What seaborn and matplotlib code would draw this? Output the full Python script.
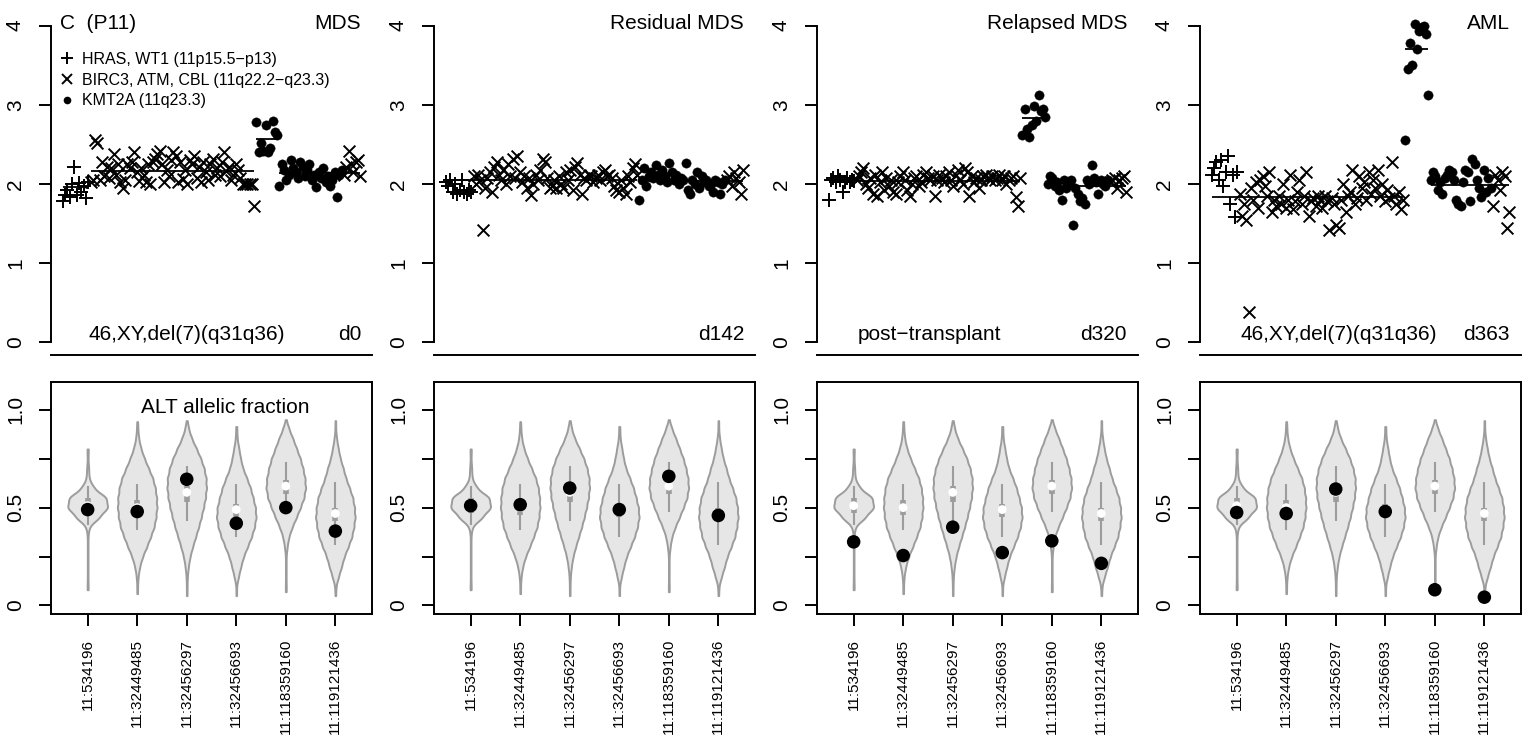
import numpy as np
import pandas as pd
import matplotlib
matplotlib.use("Agg")
import matplotlib.pyplot as plt
from matplotlib.lines import Line2D
import seaborn as sns

plt.rcParams['font.family'] = ['Liberation Sans', 'DejaVu Sans']

# ------------------------------------------------------------------ data
panel_titles = ["MDS", "Residual MDS", "Relapsed MDS", "AML"]
panel_days = ["d0", "d142", "d320", "d363"]
panel_notes = ["46,XY,del(7)(q31q36)", "", "post\u2212transplant", "46,XY,del(7)(q31q36)"]
group_labels = ["HRAS, WT1 (11p15.5\u2212p13)",
                "BIRC3, ATM, CBL (11q22.2\u2212q23.3)",
                "KMT2A (11q23.3)"]

# copy-number estimates in genomic order: HRAS/WT1 (+), BIRC3/ATM (x), KMT2A (dot), CBL (x)
p1_hras = [1.78, 1.86, 1.92, 1.84, 2.00, 2.22, 1.86, 2.01, 1.90, 1.97, 1.82, 2.03]
p1_atm = [2.02, 2.05, 2.55, 2.52, 2.05, 2.28, 2.10, 2.22, 2.08, 2.20, 2.38, 2.12,
          2.25, 2.02, 1.95, 2.05, 2.25, 2.20, 2.28, 2.40, 2.15, 2.04, 2.20, 2.12,
          2.02, 2.25, 2.00, 2.28, 2.32, 2.38, 2.42, 2.25, 2.02, 2.18, 2.10, 2.30,
          2.40, 2.35, 2.03, 2.28, 2.06, 2.18, 2.00, 2.30, 2.25, 2.35, 2.08, 2.22,
          2.02, 2.28, 2.15, 2.05, 2.25, 2.32, 2.12, 2.20, 2.10, 2.28, 2.40, 2.16,
          2.22, 2.05, 2.12, 2.25, 2.18, 2.08, 2.00, 2.00, 2.00, 2.00, 2.00, 1.72]
p1_kmt2a = [2.78, 2.40, 2.52, 2.42, 2.74, 2.40, 2.45, 2.80, 2.66, 2.62,
            1.97, 2.25, 2.18, 2.05, 2.12, 2.30, 2.20, 2.15, 2.08, 2.28, 2.22, 2.10,
            2.18, 2.25, 2.05, 2.12, 1.96, 2.15, 2.08, 2.20, 2.02, 2.10, 1.98, 2.05,
            2.15, 1.83, 2.12, 2.18]
p1_cbl = [2.12, 2.22, 2.42, 2.25, 2.15, 2.28, 2.30, 2.10]

p2_hras = [2.02, 1.98, 2.05, 1.90, 2.00, 1.88, 1.92, 2.05, 1.90, 1.88, 1.93, 1.90]
p2_atm = [2.10, 2.00, 2.12, 2.05, 1.42, 1.95, 2.08, 2.15, 1.90, 2.22, 2.28, 2.12,
          2.05, 2.18, 2.00, 2.25, 2.10, 2.32, 2.08, 2.35, 2.15, 2.02, 2.10, 1.95,
          2.08, 1.86, 2.00, 2.12, 2.05, 2.18, 2.32, 2.28, 2.08, 1.95, 1.98, 2.05,
          1.95, 2.10, 2.00, 1.95, 2.15, 2.05, 2.18, 1.92, 2.22, 2.26, 2.12, 1.88,
          2.08, 2.05, 2.12, 2.10, 2.02, 2.08, 2.12, 2.05, 2.15, 2.18, 2.10, 2.12,
          2.08, 1.98, 1.92, 1.90, 2.05, 1.95, 1.88, 2.10, 2.02, 2.20, 2.25, 2.12]
p2_kmt2a = [1.80, 2.05, 2.20, 1.98, 2.10, 2.15, 2.08, 2.24, 2.12, 2.05,
            2.18, 2.10, 2.02, 2.26, 2.15, 2.05, 2.12, 2.00, 2.08, 2.05,
            2.26, 1.92, 1.88, 2.05, 2.00, 2.15, 1.95, 2.10, 2.02, 2.05,
            1.98, 2.00, 1.90, 2.05, 2.02, 1.88, 2.00, 2.05]
p2_cbl = [2.05, 2.10, 1.98, 2.15, 2.08, 2.02, 1.88, 2.18]

p3_hras = [1.80, 2.05, 2.08, 2.02, 2.10, 2.05, 1.90, 2.03, 2.08, 2.02, 2.05, 2.04]
p3_atm = [2.05, 2.10, 2.15, 2.20, 2.00, 1.95, 2.08, 1.88, 2.12, 1.85, 2.02, 2.15,
          1.92, 2.08, 1.98, 2.05, 1.90, 1.88, 2.02, 2.10, 2.15, 2.05, 1.92, 1.85,
          2.00, 2.08, 2.10, 1.98, 2.02, 2.12, 2.15, 2.08, 2.05, 2.10, 1.85, 2.05,
          2.12, 2.08, 2.02, 2.10, 2.15, 2.05, 1.98, 2.12, 2.18, 2.05, 2.00, 2.20,
          2.15, 1.85, 2.10, 2.02, 2.08, 1.95, 2.05, 2.10, 2.12, 2.08, 2.05, 2.10,
          2.05, 2.08, 2.12, 2.05, 2.10, 2.00, 2.05, 2.08, 2.10, 1.84, 1.72, 2.08]
p3_kmt2a = [2.62, 2.95, 2.70, 2.60, 2.75, 2.98, 2.80, 3.13, 2.92, 2.95, 2.85,
            2.00, 2.10, 2.08, 1.98, 2.02, 1.92, 1.80, 2.05, 1.95, 2.02, 2.05, 1.48,
            1.95, 1.88, 1.78, 1.82, 1.75, 2.05, 2.00, 2.24, 2.08, 2.02, 1.87, 2.05,
            2.00, 1.98, 2.05]
p3_cbl = [2.02, 2.05, 2.08, 1.95, 2.05, 2.08, 2.10, 1.90]

p4_hras = [2.12, 2.20, 2.28, 2.05, 2.30, 1.98, 2.15, 2.35, 1.75, 2.12, 1.58, 2.15]
p4_atm = [1.88, 1.60, 1.75, 1.55, 0.38, 1.95, 1.80, 2.02, 1.70, 2.05, 2.10, 1.98,
          1.85, 2.15, 1.65, 1.80, 1.72, 1.85, 1.75, 2.00, 1.70, 1.80, 2.12, 1.68,
          1.78, 1.90, 2.05, 1.75, 1.85, 2.15, 1.60, 1.78, 1.82, 1.72, 1.85, 1.80,
          1.70, 1.85, 1.78, 1.42, 1.82, 1.75, 1.48, 1.45, 1.80, 2.00, 1.65, 1.85,
          1.90, 2.18, 1.75, 1.82, 2.10, 1.95, 2.02, 1.80, 2.15, 1.88, 2.05, 1.95,
          2.18, 1.85, 2.00, 1.78, 1.92, 1.82, 2.28, 1.85, 1.75, 1.90, 1.68, 1.80]
p4_kmt2a = [2.56, 3.45, 3.78, 3.50, 4.02, 3.70, 3.93, 3.98, 4.00, 3.90, 3.13,
            2.05, 2.15, 2.10, 1.92, 2.02, 1.88, 2.08, 2.12, 2.18, 2.15, 2.05, 1.80,
            1.75, 1.72, 2.02, 2.18, 2.15, 1.78, 2.32, 2.25, 2.05, 1.95, 1.84, 2.18,
            1.90, 2.08, 1.95]
p4_cbl = [1.72, 2.12, 2.05, 1.92, 2.15, 2.10, 1.45, 1.65]

# segmentation: first marker, last marker (1-based), mean copy number
p1_seg_start = [1, 13, 85, 95]
p1_seg_end = [12, 84, 94, 130]
p1_seg_mean = [1.96, 2.16, 2.57, 2.14]
p2_seg_start = [1, 85]
p2_seg_end = [84, 130]
p2_seg_mean = [2.05, 2.04]
p3_seg_start = [1, 85, 96]
p3_seg_end = [84, 95, 130]
p3_seg_mean = [2.04, 2.83, 1.98]
p4_seg_start = [1, 85, 96]
p4_seg_end = [84, 95, 130]
p4_seg_mean = [1.84, 3.70, 1.99]

# allelic-fraction reference distributions (relative densities read on a grid)
loci = ["11:534196", "11:32449485", "11:32456297", "11:32456693", "11:118359160", "11:119121436"]
af_grid = [0.05, 0.10, 0.15, 0.20, 0.25, 0.30, 0.35, 0.40, 0.45, 0.50,
           0.55, 0.60, 0.65, 0.70, 0.75, 0.80, 0.85, 0.90, 0.95]
ref_dens_1 = [0, 1, 1, 1, 1, 1, 1, 4, 34, 60, 56, 18, 4, 3, 1, 1, 0, 0, 0]
ref_dens_2 = [0, 1, 3, 8, 17, 30, 42, 53, 59, 62, 61, 57, 49, 36, 23, 12, 5, 2, 0]
ref_dens_3 = [0, 1, 2, 5, 10, 18, 27, 36, 44, 51, 57, 60, 59, 53, 43, 30, 16, 6, 0]
ref_dens_4 = [0, 1, 7, 14, 22, 34, 46, 55, 60, 58, 51, 43, 32, 20, 13, 8, 3, 1, 0]
ref_dens_5 = [0, 1, 1, 1, 1, 4, 9, 19, 32, 44, 55, 60, 58, 52, 44, 33, 22, 10, 0]
ref_dens_6 = [0, 2, 10, 19, 27, 39, 50, 56, 60, 58, 53, 43, 32, 24, 15, 9, 4, 1, 0]
ref_min = [0.08, 0.06, 0.05, 0.05, 0.07, 0.05]
ref_max = [0.795, 0.94, 0.945, 0.915, 0.95, 0.945]
ref_whisk_lo = [0.41, 0.385, 0.43, 0.35, 0.48, 0.31]
ref_whisk_hi = [0.61, 0.62, 0.715, 0.62, 0.735, 0.63]
ref_q1 = [0.47, 0.46, 0.53, 0.45, 0.57, 0.43]
ref_q3 = [0.55, 0.54, 0.61, 0.52, 0.64, 0.50]
ref_median = [0.51, 0.50, 0.578, 0.49, 0.61, 0.47]

# sample allelic fractions per time point
af_d0 = [0.49, 0.48, 0.645, 0.42, 0.50, 0.38]
af_d142 = [0.51, 0.515, 0.60, 0.49, 0.66, 0.46]
af_d320 = [0.325, 0.255, 0.40, 0.27, 0.33, 0.215]
af_d363 = [0.475, 0.47, 0.595, 0.48, 0.08, 0.042]

# ------------------------------------------------------------------ assemble
cn_panels = [(p1_hras, p1_atm, p1_kmt2a, p1_cbl), (p2_hras, p2_atm, p2_kmt2a, p2_cbl),
             (p3_hras, p3_atm, p3_kmt2a, p3_cbl), (p4_hras, p4_atm, p4_kmt2a, p4_cbl)]
seg_panels = [(p1_seg_start, p1_seg_end, p1_seg_mean), (p2_seg_start, p2_seg_end, p2_seg_mean),
              (p3_seg_start, p3_seg_end, p3_seg_mean), (p4_seg_start, p4_seg_end, p4_seg_mean)]
af_panels = [af_d0, af_d142, af_d320, af_d363]
dens_list = [ref_dens_1, ref_dens_2, ref_dens_3, ref_dens_4, ref_dens_5, ref_dens_6]

ref_rows = []
for k, locus in enumerate(loci):
    vals = list(np.repeat(af_grid, dens_list[k])) + [ref_min[k], ref_max[k]]
    ref_rows += [(locus, v) for v in vals]
ref_df = pd.DataFrame(ref_rows, columns=["locus", "af"])

KDE_BW = 0.025  # kernel bandwidth in allelic-fraction units

# ------------------------------------------------------------------ figure
W, H = 1533, 746
fig = plt.figure(figsize=(W / 100, H / 100), dpi=100)

LW = 1.4
GREY = "#9C9C9C"
FILL = "#E6E6E6"
ax_left_px = [51, 434, 817, 1200]
ax_w_px = 321

for i in range(4):
    lx = ax_left_px[i] / W
    # ---------------- top: copy number
    ax = fig.add_axes([lx, (H - 355) / H, ax_w_px / W, 342 / H])
    hras, atm, kmt, cbl = cn_panels[i]
    n1, n2, n3, n4 = len(hras), len(atm), len(kmt), len(cbl)
    N = n1 + n2 + n3 + n4
    idx = np.arange(1, N + 1)
    x_h = idx[:n1]
    x_a = idx[n1:n1 + n2]
    x_k = idx[n1 + n2:n1 + n2 + n3]
    x_c = idx[n1 + n2 + n3:]

    sns.scatterplot(x=x_h, y=hras, marker='+', color='black', s=95, linewidth=LW, ax=ax, zorder=3)
    sns.scatterplot(x=np.concatenate([x_a, x_c]), y=list(atm) + list(cbl), marker='x',
                    color='black', s=72, linewidth=LW, ax=ax, zorder=3)
    sns.scatterplot(x=x_k, y=kmt, marker='o', color='black', s=45, edgecolor='black',
                    linewidth=0.3, ax=ax, zorder=3)
    s_st, s_en, s_mu = seg_panels[i]
    ax.hlines(s_mu, s_st, s_en, color='black', lw=1.3, zorder=4)

    ax.set_xlim(1 - 0.04 * (N - 1), N + 0.04 * (N - 1))
    ax.set_ylim(-0.16, 4.16)
    ax.spines['top'].set_visible(False)
    ax.spines['right'].set_visible(False)
    ax.spines['left'].set_bounds(0, 4)
    ax.spines['left'].set_linewidth(LW)
    ax.spines['bottom'].set_linewidth(LW)
    ax.set_xticks([])
    ax.set_yticks([0, 1, 2, 3, 4])
    ax.set_yticklabels(["0", "1", "2", "3", "4"])
    ax.tick_params(axis='y', length=8.3, width=LW, labelsize=15, pad=10.5, labelrotation=90)
    for lab in ax.get_yticklabels():
        lab.set_va('center')
    ax.set_xlabel('')
    ax.set_ylabel('')

    ax.text(0.966, 0.968, panel_titles[i], transform=ax.transAxes, ha='right', va='center', fontsize=15)
    ax.text(0.966, 0.061, panel_days[i], transform=ax.transAxes, ha='right', va='center', fontsize=15)
    note_x = [0.117, 0.117, 0.128, 0.127][i]
    if panel_notes[i]:
        ax.text(note_x, 0.061, panel_notes[i], transform=ax.transAxes, ha='left', va='center', fontsize=15)

    if i == 0:
        ax.text(0.028, 0.968, "C  (P11)", transform=ax.transAxes, ha='left', va='center', fontsize=15)
        handles = [Line2D([], [], ls='', marker='+', color='black', markersize=8.5, mew=LW),
                   Line2D([], [], ls='', marker='x', color='black', markersize=7, mew=LW),
                   Line2D([], [], ls='', marker='o', color='black', markersize=5.5, mew=0)]
        ax.legend(handles, group_labels, loc='upper left', bbox_to_anchor=(0.030, 0.887),
                  frameon=False, fontsize=11.5, handlelength=0.8, handletextpad=0.55,
                  labelspacing=0.37, borderaxespad=0, borderpad=0)

    # ---------------- bottom: allelic fraction
    bx = fig.add_axes([lx, (H - 614) / H, ax_w_px / W, 232.3 / H])
    for k, locus in enumerate(loci):
        sub = ref_df[ref_df["locus"] == locus]
        sns.violinplot(data=sub, x='locus', y='af', order=loci, cut=0, density_norm='width',
                       width=0.8, inner=None, color=FILL, saturation=1, linecolor=GREY,
                       linewidth=1.4, bw_method=KDE_BW / sub["af"].std(), gridsize=300, ax=bx)
    pos = np.arange(len(loci))
    bx.vlines(pos, ref_whisk_lo, ref_whisk_hi, color=GREY, lw=1.5, zorder=3)
    bx.vlines(pos, ref_q1, ref_q3, color=GREY, lw=4, zorder=3)
    sns.scatterplot(x=pos, y=ref_median, color='white', s=40, edgecolor='none', ax=bx, zorder=4)
    sns.scatterplot(x=pos, y=af_panels[i], color='black', s=95, edgecolor='none', ax=bx, zorder=5)

    bx.set_xlim(-0.74, 5.74)
    bx.set_ylim(-0.044, 1.144)
    bx.set_yticks([0, 0.25, 0.5, 0.75, 1.0])
    bx.set_yticklabels(["0", "", "0.5", "", "1.0"])
    bx.set_xticks(pos)
    bx.set_xticklabels(loci)
    bx.tick_params(axis='y', length=8.3, width=LW, labelsize=15, pad=10.5, labelrotation=90)
    for lab in bx.get_yticklabels():
        lab.set_va('center')
    bx.tick_params(axis='x', length=8.5, width=LW, labelsize=11, pad=9.5, labelrotation=90)
    for sp in bx.spines.values():
        sp.set_visible(True)
        sp.set_linewidth(LW)
    bx.set_xlabel('')
    bx.set_ylabel('')
    if i == 0:
        bx.text(0.542, 0.887, "ALT allelic fraction", transform=bx.transAxes, ha='center',
                va='center', fontsize=15)

fig.savefig("out.png", dpi=100)
